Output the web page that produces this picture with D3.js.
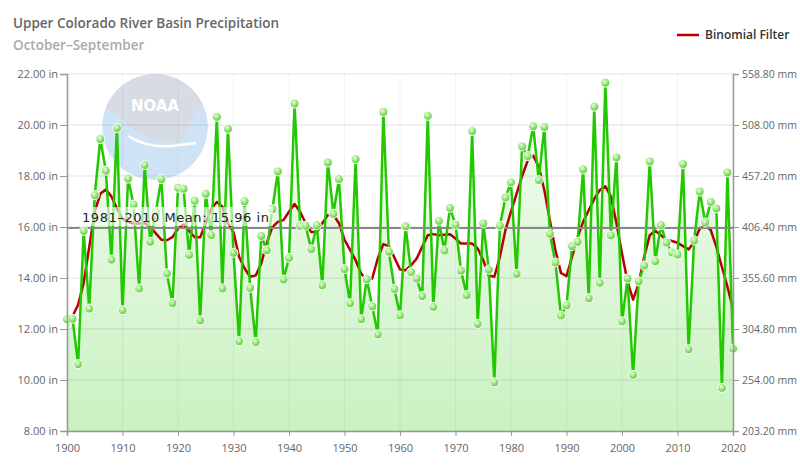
<!DOCTYPE html>
<html>
<head>
<meta charset="utf-8">
<script src="https://cdn.jsdelivr.net/npm/d3@7"></script>
<style>
  html, body { margin: 0; padding: 0; background: #fff; }
  svg { display: block; font-family: "Open Sans", sans-serif; }
</style>
</head>
<body>
<div id="chart"></div>
<script>
// water-year precipitation (inches), 1900..2020
const firstYear = 1900;
const precip = [
  12.38, 12.40, 10.62, 15.85, 12.80, 17.25, 19.45, 18.21, 14.72, 19.88,
  12.74, 17.90, 16.88, 13.59, 18.43, 15.42, 16.60, 17.88, 14.18, 13.02,
  17.54, 17.50, 14.91, 17.03, 12.34, 17.30, 15.68, 20.32, 13.59, 19.85,
  14.99, 11.52, 17.01, 13.61, 11.49, 15.65, 15.09, 16.70, 18.18, 13.94,
  14.79, 20.84, 16.05, 16.05, 15.13, 16.07, 13.72, 18.53, 16.52, 17.88,
  14.35, 13.01, 18.66, 12.38, 13.95, 12.89, 11.79, 20.51, 15.03, 13.57,
  12.54, 16.03, 14.23, 13.98, 13.29, 20.36, 12.87, 16.24, 15.08, 16.75,
  16.09, 14.29, 13.33, 19.76, 12.20, 16.14, 14.33, 9.91, 16.05, 17.16,
  17.75, 14.16, 19.16, 18.78, 19.95, 17.84, 19.92, 15.73, 14.61, 12.53,
  12.93, 15.25, 15.42, 18.26, 13.21, 20.72, 13.81, 21.66, 15.67, 18.73,
  12.30, 13.98, 10.20, 13.87, 14.49, 18.57, 14.66, 16.07, 15.39, 15.00,
  14.92, 18.47, 11.21, 15.47, 17.39, 16.18, 16.98, 16.73, 9.69, 18.14,
  11.23
];

// binomial filter, 1901..2020
const filterStart = 1901;
const filtered = [
  12.50, 12.95, 13.80, 15.20, 16.60, 17.30, 17.47, 17.20, 16.72,
  16.33, 16.20, 16.14, 16.14, 16.16, 16.00, 15.75, 15.50, 15.48, 15.60,
  15.94, 16.10, 15.85, 15.60, 15.60, 16.14, 16.72, 16.98, 16.80, 16.14,
  15.80, 14.83, 14.37, 14.05, 14.10, 14.57, 15.38, 16.00, 16.20, 16.27,
  16.60, 16.90, 16.60, 16.15, 15.80, 15.80, 16.15, 16.47, 16.47, 16.15,
  15.50, 15.10, 14.70, 14.18, 13.90, 13.98, 14.77, 15.33, 15.25, 14.80,
  14.33, 14.30, 14.50, 14.76, 15.22, 15.68, 15.72, 15.68, 15.70, 15.72,
  15.55, 15.35, 15.35, 15.35, 15.16, 14.70, 14.10, 14.05, 14.83, 15.88,
  16.60, 17.30, 18.00, 18.60, 18.80, 18.36, 17.45, 16.27, 15.10, 14.20,
  14.07, 14.83, 15.60, 16.20, 16.66, 17.10, 17.45, 17.60, 17.20, 16.15,
  14.96, 13.85, 13.15, 13.78, 14.83, 15.68, 15.85, 15.68, 15.50, 15.45,
  15.38, 15.25, 15.12, 15.42, 15.94, 16.05, 15.88, 15.22, 14.43, 13.65,
  12.80
];

const meanValue = 15.96;
const meanLabel = "1981\u20132010 Mean: 15.96 in";
const yTicks = [8, 10, 12, 14, 16, 18, 20, 22];
const xTicks = [1900, 1910, 1920, 1930, 1940, 1950, 1960, 1970, 1980, 1990, 2000, 2010, 2020];

const width = 800;
const height = 472;
const margin = { top: 74, right: 67, bottom: 41, left: 67 };

const svg = d3.select("#chart")
  .append("svg")
  .attr("width", width)
  .attr("height", height);

const x = d3.scaleLinear()
  .domain([1900, 2020])
  .range([margin.left, width - margin.right]);

const y = d3.scaleLinear()
  .domain([8, 22])
  .range([height - margin.bottom, margin.top]);

const yMm = d3.scaleLinear()
  .domain([8 * 25.4, 22 * 25.4])
  .range(y.range());

const rows = precip.map((v, i) => ({ year: firstYear + i, value: v }));
const smooth = filtered.map((v, i) => ({ year: filterStart + i, value: v }));

const defs = svg.append("defs");

const areaGrad = defs.append("linearGradient")
  .attr("id", "areaGrad")
  .attr("gradientUnits", "userSpaceOnUse")
  .attr("x1", 0).attr("x2", 0)
  .attr("y1", y(22)).attr("y2", y(8));
areaGrad.append("stop").attr("offset", "0%").attr("stop-color", "#f6fdf3");
areaGrad.append("stop").attr("offset", "100%").attr("stop-color", "#c3f0ba");

const dotGrad = defs.append("radialGradient")
  .attr("id", "dotGrad")
  .attr("cx", "40%").attr("cy", "35%").attr("r", "65%");
dotGrad.append("stop").attr("offset", "0%").attr("stop-color", "#e6ffd9");
dotGrad.append("stop").attr("offset", "100%").attr("stop-color", "#52cc2c");

defs.append("clipPath").attr("id", "logoClip")
  .append("circle").attr("cx", 155).attr("cy", 127).attr("r", 53);

defs.append("clipPath").attr("id", "plotClip")
  .append("rect")
  .attr("x", margin.left).attr("y", margin.top)
  .attr("width", width - margin.left - margin.right)
  .attr("height", height - margin.top - margin.bottom);

// faint NOAA logo behind the plot
const logo = svg.append("g").attr("clip-path", "url(#plotClip)")
  .append("g").attr("clip-path", "url(#logoClip)").attr("opacity", 0.7);
logo.append("circle").attr("cx", 155).attr("cy", 127).attr("r", 53).attr("fill", "#b9d9f2");
logo.append("path")
  .attr("fill", "#c6ccd9")
  .attr("d", "M95,70 L215,70 L215,96 Q205,100 199,108 Q190,122 186,134 Q182,142 178,143 Q150,142 132,128 Q118,114 104,108 L95,110 Z");
logo.append("path")
  .attr("fill", "none")
  .attr("stroke", "#ffffff")
  .attr("stroke-width", 2.5)
  .attr("d", "M128,136 Q150,150 180,145 L196,143");
logo.append("text")
  .attr("x", 155).attr("y", 111)
  .attr("text-anchor", "middle")
  .attr("fill", "#ffffff")
  .attr("font-family", "DejaVu Sans, sans-serif")
  .attr("font-weight", "bold")
  .attr("font-size", 15)
  .text("NOAA");

// area under the series
svg.append("path")
  .datum(rows)
  .attr("fill", "url(#areaGrad)")
  .attr("fill-opacity", 0.9)
  .attr("d", d3.area()
    .x(d => x(d.year))
    .y0(y(8))
    .y1(d => y(d.value)));

// grid
svg.append("g")
  .selectAll("line")
  .data(yTicks)
  .join("line")
    .attr("x1", margin.left).attr("x2", width - margin.right)
    .attr("y1", d => y(d)).attr("y2", d => y(d))
    .attr("stroke", "rgba(0,0,0,0.11)")
    .attr("stroke-width", 1);

svg.append("g")
  .selectAll("line")
  .data(xTicks)
  .join("line")
    .attr("x1", d => x(d)).attr("x2", d => x(d))
    .attr("y1", margin.top).attr("y2", height - margin.bottom)
    .attr("stroke", "rgba(0,0,0,0.05)")
    .attr("stroke-width", 1);

// binomial filter
svg.append("path")
  .datum(smooth)
  .attr("fill", "none")
  .attr("stroke", "#b80000")
  .attr("stroke-width", 2.5)
  .attr("stroke-linejoin", "round")
  .attr("d", d3.line()
    .x(d => x(d.year))
    .y(d => y(d.value)));

// precipitation line
svg.append("path")
  .datum(rows)
  .attr("fill", "none")
  .attr("stroke", "#22c800")
  .attr("stroke-width", 2.5)
  .attr("stroke-linejoin", "round")
  .attr("d", d3.line()
    .x(d => x(d.year))
    .y(d => y(d.value)));

// mean line
svg.append("line")
  .attr("x1", margin.left).attr("x2", width - margin.right)
  .attr("y1", y(meanValue)).attr("y2", y(meanValue))
  .attr("stroke", "#888")
  .attr("stroke-width", 2);

// markers
svg.append("g")
  .selectAll("circle")
  .data(rows)
  .join("circle")
    .attr("cx", d => x(d.year))
    .attr("cy", d => y(d.value))
    .attr("r", 4.5)
    .attr("fill", "url(#dotGrad)")
    .attr("stroke", "#fff")
    .attr("stroke-width", 1);

// mean label
svg.append("rect")
  .attr("x", 78).attr("y", y(meanValue) - 21)
  .attr("width", 195).attr("height", 19)
  .attr("fill", "#fff")
  .attr("fill-opacity", 0.6);
svg.append("text")
  .attr("x", 82).attr("y", y(meanValue) - 6)
  .attr("font-family", "DejaVu Sans, sans-serif")
  .attr("font-size", 13)
  .attr("fill", "#222")
  .attr("textLength", 187)
  .attr("lengthAdjust", "spacing")
  .text(meanLabel);

// axes
function yAxis(g) {
  g.attr("transform", `translate(${margin.left},0)`)
    .call(d3.axisLeft(y).tickValues(yTicks).tickSize(7).tickPadding(2)
      .tickFormat(d => d3.format(".2f")(d) + " in"));
}

function yAxisRight(g) {
  g.attr("transform", `translate(${width - margin.right},0)`)
    .call(d3.axisRight(yMm).tickValues(yTicks.map(d => d * 25.4)).tickSize(6).tickPadding(3)
      .tickFormat(d => d3.format(".2f")(d) + " mm"));
}

function xAxis(g) {
  g.attr("transform", `translate(0,${height - margin.bottom})`)
    .call(d3.axisBottom(x).tickValues(xTicks).tickSize(5).tickPadding(8)
      .tickFormat(d3.format("d")));
}

[yAxis, yAxisRight, xAxis].forEach((fn, i) => {
  const g = svg.append("g").call(fn);
  g.select(".domain").attr("stroke", "#999").attr("stroke-width", 1.5);
  g.selectAll(".tick line").attr("stroke", "#999");
  g.selectAll(".tick text")
    .attr("fill", "#666")
    .attr("font-family", "Open Sans, sans-serif")
    .attr("font-size", i === 1 ? 10.5 : 11);
});

// title
svg.append("text")
  .attr("x", 13).attr("y", 28)
  .attr("font-size", 13.5)
  .attr("font-weight", 600)
  .attr("fill", "#666")
  .text("Upper Colorado River Basin Precipitation");

svg.append("text")
  .attr("x", 13).attr("y", 50)
  .attr("font-size", 13.5)
  .attr("font-weight", 600)
  .attr("fill", "#aaa")
  .text("October\u2013September");

// legend
svg.append("line")
  .attr("x1", 677).attr("x2", 699)
  .attr("y1", 35).attr("y2", 35)
  .attr("stroke", "#b80000")
  .attr("stroke-width", 2.5);
svg.append("text")
  .attr("x", 705).attr("y", 39)
  .attr("font-size", 12)
  .attr("font-weight", 600)
  .attr("fill", "#333")
  .text("Binomial Filter");
</script>
</body>
</html>
